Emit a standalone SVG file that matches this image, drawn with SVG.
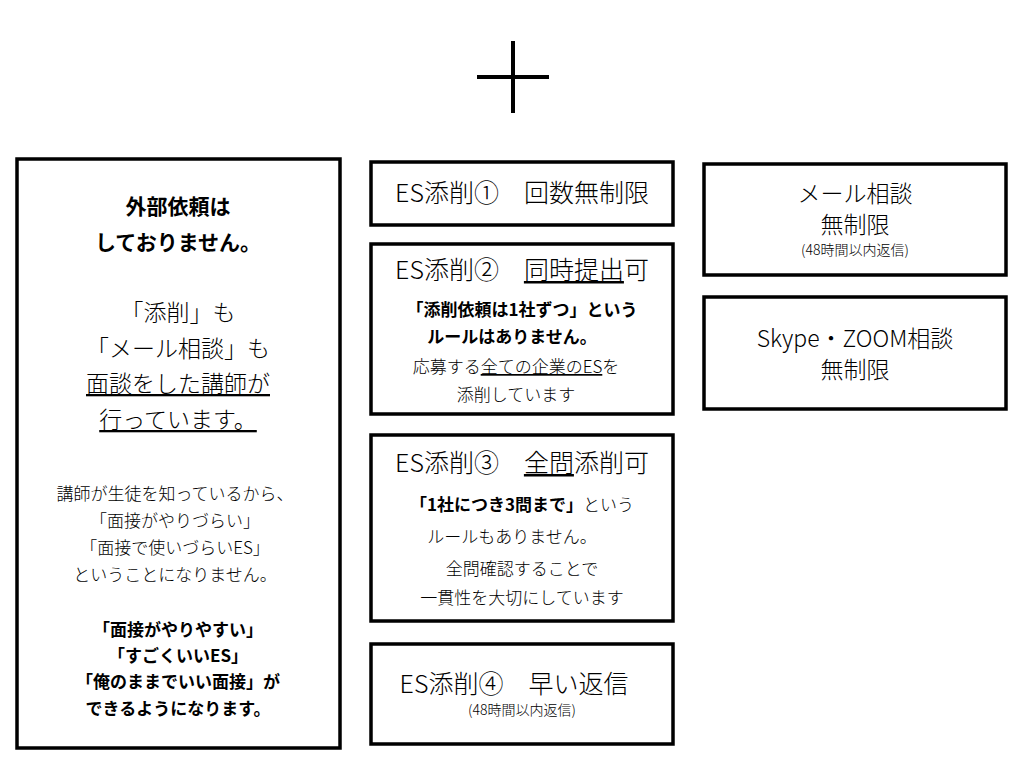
<svg xmlns="http://www.w3.org/2000/svg" width="1024" height="768" viewBox="0 0 1024 768">
<style>
rect{fill:#fff;stroke:#000;stroke-width:3.5}
text{font-family:"Noto Sans CJK JP","Noto Sans",sans-serif;fill:#000;text-anchor:middle;font-weight:300}
.t{font-size:25px}
.r{font-size:23px}
.m{font-size:23px}
.b{font-size:21px;font-weight:bold}
.s{font-size:17px}
.bs{font-size:17px;font-weight:bold}
.xs{font-size:14px}
.u{text-decoration:underline}
</style>
<rect x="0" y="0" width="1024" height="768" style="stroke:none"/>
<g id="plus" stroke="#000" stroke-width="4"><line x1="477" y1="77" x2="549" y2="77"/><line x1="513" y1="41" x2="513" y2="113"/></g>
<g id="left">
<rect x="17" y="159" width="323" height="589"/>
<text class="b" x="178" y="214">外部依頼は</text>
<text class="b" x="178" y="250">しておりません。</text>
<text class="m" x="178" y="321">「添削」も</text>
<text class="m" x="178" y="357">「メール相談」も</text>
<text class="m" x="178" y="392"><tspan class="u">面談をした講師が</tspan></text>
<text class="m" x="178" y="428"><tspan class="u">行っています。</tspan></text>
<text class="s" x="175" y="500">講師が生徒を知っているから、</text>
<text class="s" x="175" y="527">「面接がやりづらい」</text>
<text class="s" x="175" y="554">「面接で使いづらいES」</text>
<text class="s" x="175" y="581">ということになりません。</text>
<text class="bs" x="178" y="636">「面接がやりやすい」</text>
<text class="bs" x="178" y="662">「すごくいいES」</text>
<text class="bs" x="178" y="688">「俺のままでいい面接」が</text>
<text class="bs" x="178" y="715">できるようになります。</text>
</g>
<g id="es1"><rect x="371" y="162" width="302" height="63"/>
<text class="t" x="522" y="202">ES添削①　回数無制限</text></g>
<g id="es2"><rect x="371" y="244" width="302" height="170"/>
<text class="t" x="522" y="279">ES添削②　<tspan class="u">同時提出</tspan>可</text>
<text class="bs" x="522" y="316">「添削依頼は1社ずつ」という</text>
<text class="bs" x="512" y="343">ルールはありません。</text>
<text class="s" x="516" y="373">応募する<tspan class="u">全ての企業のES</tspan>を</text>
<text class="s" x="516" y="401">添削しています</text></g>
<g id="es3"><rect x="371" y="435" width="302" height="186"/>
<text class="t" x="522" y="472">ES添削③　<tspan class="u">全問</tspan>添削可</text>
<text class="s" x="522" y="511"><tspan font-weight="bold">「1社につき3問まで」</tspan>という</text>
<text class="s" x="512" y="543">ルールもありません。</text>
<text class="s" x="522" y="575">全問確認することで</text>
<text class="s" x="522" y="604">一貫性を大切にしています</text></g>
<g id="es4"><rect x="371" y="644" width="302" height="100"/>
<text class="t" x="514" y="693">ES添削④　早い返信</text>
<text class="xs" x="522" y="715">(48時間以内返信)</text></g>
<g id="mail"><rect x="704" y="164" width="302" height="111"/>
<text class="r" x="855" y="202">メール相談</text>
<text class="r" x="855" y="233">無制限</text>
<text class="xs" x="855" y="255">(48時間以内返信)</text></g>
<g id="skype"><rect x="704" y="297" width="302" height="112"/>
<text class="r" x="855" y="347">Skype・ZOOM相談</text>
<text class="r" x="855" y="378">無制限</text></g>
<g id="connectors"/>
</svg>
